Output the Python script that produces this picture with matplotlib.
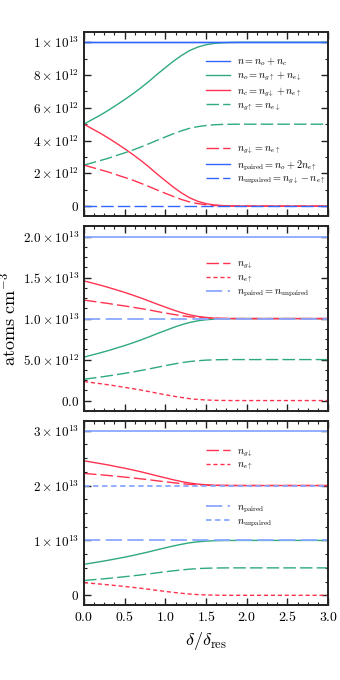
import matplotlib
matplotlib.use('Agg')
import matplotlib.pyplot as plt
from matplotlib.legend import Legend
from matplotlib.ticker import AutoMinorLocator

plt.rcParams['mathtext.fontset'] = 'cm'
plt.rcParams['font.family'] = 'serif'
plt.rcParams['font.serif'] = ['DejaVu Serif']

BLUE = '#3366ff'
LIGHT_BLUE = '#8aa8ff'
GREEN = '#2eaa7c'
RED = '#ff3350'
LONG = (0, (9, 3))
SHORT = (0, (3, 2))

# detuning grid, delta / delta_res
delta = [0.0, 0.1, 0.2, 0.3, 0.4, 0.5, 0.6, 0.7, 0.8, 0.9, 1.0,
         1.1, 1.2, 1.3, 1.4, 1.5, 1.6, 1.7, 1.8, 1.9, 2.0, 3.0]

# panel 1, units of 1e12 atoms/cm^3
p1_n = [10.0] * 22
p1_no = [5.0, 5.28, 5.55, 5.85, 6.17, 6.5, 6.85, 7.22, 7.62, 8.05, 8.45,
         8.85, 9.2, 9.5, 9.71, 9.85, 9.93, 9.97, 9.99, 9.998, 10.0, 10.0]
p1_nc = [5.0, 4.72, 4.45, 4.15, 3.83, 3.5, 3.15, 2.78, 2.38, 1.95, 1.55,
         1.15, 0.8, 0.5, 0.29, 0.15, 0.07, 0.03, 0.01, 0.002, 0.0, 0.0]
p1_gup = [2.5, 2.64, 2.78, 2.92, 3.09, 3.25, 3.42, 3.61, 3.81, 4.02, 4.22,
          4.42, 4.6, 4.75, 4.85, 4.92, 4.965, 4.985, 4.995, 4.999, 5.0, 5.0]
p1_gdn = [2.5, 2.36, 2.22, 2.08, 1.91, 1.75, 1.58, 1.39, 1.19, 0.98, 0.78,
          0.58, 0.4, 0.25, 0.15, 0.08, 0.035, 0.015, 0.005, 0.001, 0.0, 0.0]
p1_paired = [10.0] * 22
p1_unpaired = [0.0] * 22

# panel 2, units of 1e13 atoms/cm^3
p2_n = [2.0] * 22
p2_no = [0.53, 0.556, 0.582, 0.61, 0.64, 0.671, 0.704, 0.739, 0.777, 0.817, 0.854,
         0.892, 0.925, 0.953, 0.973, 0.986, 0.993, 0.997, 0.999, 1.0, 1.0, 1.0]
p2_nc = [1.46, 1.434, 1.408, 1.38, 1.35, 1.319, 1.286, 1.251, 1.214, 1.176, 1.14,
         1.104, 1.072, 1.045, 1.026, 1.014, 1.006, 1.003, 1.001, 1.0, 1.0, 1.0]
p2_gup = [0.26, 0.273, 0.286, 0.301, 0.316, 0.332, 0.348, 0.367, 0.386, 0.406, 0.426,
          0.445, 0.462, 0.476, 0.486, 0.493, 0.497, 0.499, 0.5, 0.5, 0.5, 0.5]
p2_gdn = [1.225, 1.212, 1.198, 1.184, 1.168, 1.154, 1.139, 1.122, 1.105, 1.086, 1.068,
          1.051, 1.035, 1.022, 1.013, 1.007, 1.003, 1.001, 1.0, 1.0, 1.0, 1.0]
p2_eup = [0.232, 0.219, 0.206, 0.192, 0.177, 0.161, 0.145, 0.128, 0.109, 0.09, 0.071,
          0.053, 0.037, 0.023, 0.013, 0.007, 0.003, 0.001, 0.0, 0.0, 0.0, 0.0]
p2_pair = [1.0] * 22

# panel 3, units of 1e13 atoms/cm^3
p3_n = [3.0] * 22
p3_no = [0.565, 0.589, 0.613, 0.639, 0.667, 0.695, 0.726, 0.759, 0.793, 0.83, 0.865,
         0.9, 0.93, 0.957, 0.975, 0.987, 0.994, 0.997, 0.999, 1.0, 1.0, 1.0]
p3_nc = [2.45, 2.425, 2.4, 2.374, 2.344, 2.315, 2.284, 2.25, 2.214, 2.176, 2.14,
         2.104, 2.072, 2.045, 2.026, 2.014, 2.006, 2.003, 2.001, 2.0, 2.0, 2.0]
p3_gup = [0.27, 0.283, 0.295, 0.309, 0.324, 0.339, 0.355, 0.372, 0.391, 0.41, 0.429,
          0.447, 0.463, 0.477, 0.487, 0.493, 0.497, 0.499, 0.5, 0.5, 0.5, 0.5]
p3_gdn = [2.22, 2.208, 2.196, 2.183, 2.168, 2.154, 2.139, 2.122, 2.105, 2.086, 2.068,
          2.051, 2.035, 2.022, 2.013, 2.007, 2.003, 2.001, 2.0, 2.0, 2.0, 2.0]
p3_eup = [0.23, 0.217, 0.205, 0.191, 0.176, 0.161, 0.145, 0.128, 0.109, 0.09, 0.071,
          0.053, 0.037, 0.023, 0.013, 0.007, 0.003, 0.001, 0.0, 0.0, 0.0, 0.0]
p3_paired = [1.0] * 22
p3_unpaired = [2.0] * 22

p1_ticks = [0, 2, 4, 6, 8, 10]
p1_labels = ['$0$', r'$2\times10^{12}$', r'$4\times10^{12}$', r'$6\times10^{12}$',
             r'$8\times10^{12}$', r'$1\times10^{13}$']
p2_ticks = [0.0, 0.5, 1.0, 1.5, 2.0]
p2_labels = ['$0.0$', r'$5.0\times10^{12}$', r'$1.0\times10^{13}$',
             r'$1.5\times10^{13}$', r'$2.0\times10^{13}$']
p3_ticks = [0, 1, 2, 3]
p3_labels = ['$0$', r'$1\times10^{13}$', r'$2\times10^{13}$', r'$3\times10^{13}$']
x_ticks = [0.0, 0.5, 1.0, 1.5, 2.0, 2.5, 3.0]
x_labels = ['$0.0$', '$0.5$', '$1.0$', '$1.5$', '$2.0$', '$2.5$', '$3.0$']

LW = 1.0


def style_axis(ax, ticks, labels, ylo, yhi, ydivs):
    ax.set_xlim(0, 3)
    ax.set_ylim(ylo, yhi)
    ax.set_yticks(ticks)
    ax.set_yticklabels(labels, fontsize=9.5)
    ax.set_xticks(x_ticks)
    ax.xaxis.set_minor_locator(AutoMinorLocator(4))
    ax.yaxis.set_minor_locator(AutoMinorLocator(ydivs))
    ax.tick_params(which='both', direction='in', top=True, right=True, color='#222222')
    ax.tick_params(which='major', length=5, width=1.0)
    ax.tick_params(which='minor', length=2.5, width=0.8)
    for s in ax.spines.values():
        s.set_linewidth(1.4)
        s.set_color('#222222')


def add_legend(ax, handles, labels, y):
    leg = Legend(ax, handles, labels, loc='upper left', bbox_to_anchor=(0.5, y),
                 frameon=False, fontsize=7.3, handlelength=2.4,
                 handletextpad=0.7, labelspacing=0.2, borderpad=0,
                 borderaxespad=0)
    ax.add_artist(leg)


fig = plt.figure(figsize=(3.4, 6.8), dpi=100)
fig.subplots_adjust(left=0.247, right=0.965, top=0.953, bottom=0.110, hspace=0.054)
ax1 = fig.add_subplot(3, 1, 1)
ax2 = fig.add_subplot(3, 1, 2, sharex=ax1)
ax3 = fig.add_subplot(3, 1, 3, sharex=ax1)

# panel 1
h1, = ax1.plot(delta, p1_n, color=BLUE, lw=LW)
h2, = ax1.plot(delta, p1_no, color=GREEN, lw=LW)
h3, = ax1.plot(delta, p1_nc, color=RED, lw=LW)
h4, = ax1.plot(delta, p1_gup, color=GREEN, lw=LW, ls=LONG)
h5, = ax1.plot(delta, p1_gdn, color=RED, lw=LW, ls=LONG)
h6, = ax1.plot(delta, p1_paired, color=BLUE, lw=LW)
h7, = ax1.plot(delta, p1_unpaired, color=BLUE, lw=LW, ls=LONG)
style_axis(ax1, p1_ticks, p1_labels, -0.63, 10.63, 2)
add_legend(ax1, [h1, h2, h3, h4],
           [r'$n = n_o + n_c$', r'$n_o = n_{g\uparrow} + n_{e\downarrow}$',
            r'$n_c = n_{g\downarrow} + n_{e\uparrow}$', r'$n_{g\uparrow} = n_{e\downarrow}$'],
           0.872)
add_legend(ax1, [h5, h6, h7],
           [r'$n_{g\downarrow} = n_{e\uparrow}$', r'$n_{\rm paired} = n_o + 2n_{e\uparrow}$',
            r'$n_{\rm unpaired} = n_{g\downarrow} - n_{e\uparrow}$'],
           0.39)

# panel 2
ax2.plot(delta, p2_n, color=LIGHT_BLUE, lw=LW * 1.3)
ax2.plot(delta, p2_no, color=GREEN, lw=LW)
ax2.plot(delta, p2_gup, color=GREEN, lw=LW, ls=LONG)
ax2.plot(delta, p2_nc, color=RED, lw=LW)
g1, = ax2.plot(delta, p2_gdn, color=RED, lw=LW, ls=LONG)
g2, = ax2.plot(delta, p2_eup, color=RED, lw=LW, ls=SHORT)
g3, = ax2.plot(delta, p2_pair, color=LIGHT_BLUE, lw=LW * 1.3, ls=LONG)
style_axis(ax2, p2_ticks, p2_labels, -0.125, 2.125, 4)
add_legend(ax2, [g1, g2, g3],
           [r'$n_{g\downarrow}$', r'$n_{e\uparrow}$', r'$n_{\rm paired} = n_{\rm unpaired}$'],
           0.82)
ax2.set_ylabel(r'$\mathrm{atoms\ cm^{-3}}$', fontsize=13)
ax2.yaxis.set_label_coords(-0.265, 0.5)

# panel 3
ax3.plot(delta, p3_n, color=LIGHT_BLUE, lw=LW * 1.3)
ax3.plot(delta, p3_no, color=GREEN, lw=LW)
ax3.plot(delta, p3_gup, color=GREEN, lw=LW, ls=LONG)
ax3.plot(delta, p3_nc, color=RED, lw=LW)
k1, = ax3.plot(delta, p3_gdn, color=RED, lw=LW, ls=LONG)
k2, = ax3.plot(delta, p3_eup, color=RED, lw=LW, ls=SHORT)
k3, = ax3.plot(delta, p3_paired, color=LIGHT_BLUE, lw=LW * 1.3, ls=LONG)
k4, = ax3.plot(delta, p3_unpaired, color=LIGHT_BLUE, lw=LW * 1.3, ls=SHORT)
style_axis(ax3, p3_ticks, p3_labels, -0.18, 3.18, 4)
add_legend(ax3, [k1, k2], [r'$n_{g\downarrow}$', r'$n_{e\uparrow}$'], 0.859)
add_legend(ax3, [k3, k4], [r'$n_{\rm paired}$', r'$n_{\rm unpaired}$'], 0.555)

for ax in (ax1, ax2):
    plt.setp(ax.get_xticklabels(), visible=False)
ax3.set_xticklabels(x_labels, fontsize=10)
ax3.set_xlabel(r'$\delta/\delta_{\rm res}$', fontsize=13)

fig.savefig('out.png', dpi=100)
